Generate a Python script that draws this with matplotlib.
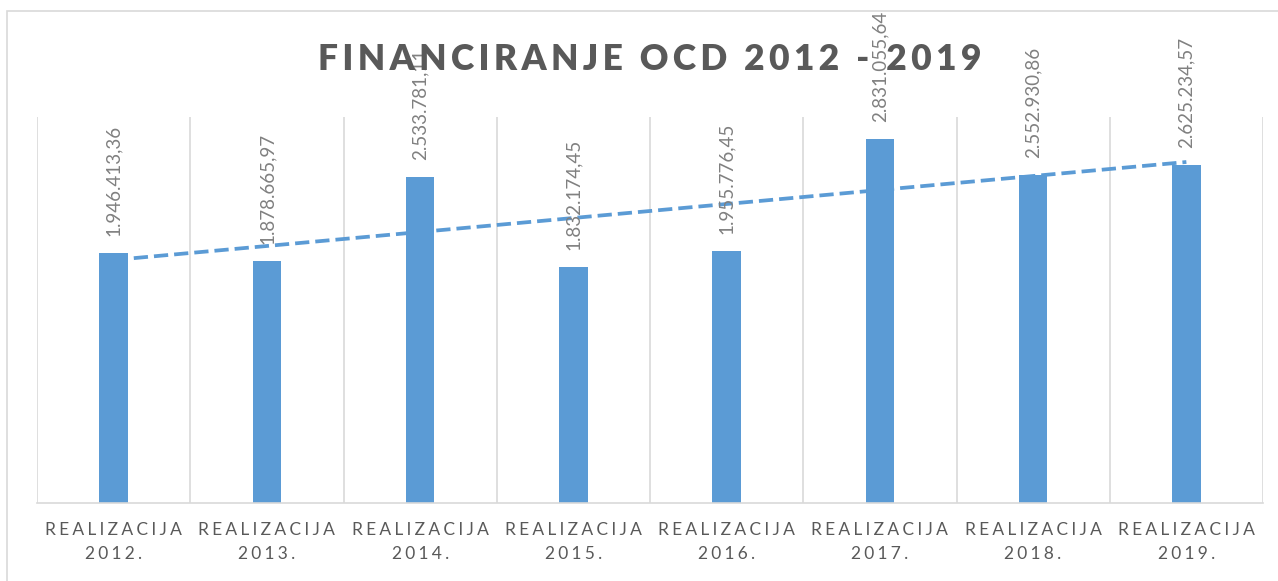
import numpy as np
import matplotlib.pyplot as plt
from matplotlib.patches import Rectangle

years = ['2012.', '2013.', '2014.', '2015.', '2016.', '2017.', '2018.', '2019.']
values = [1946413.36, 1878665.97, 2533781.11, 1832174.45,
          1955776.45, 2831055.64, 2552930.86, 2625234.57]
value_labels = ['1.946.413,36', '1.878.665,97', '2.533.781,11', '1.832.174,45',
                '1.955.776,45', '2.831.055,64', '2.552.930,86', '2.625.234,57']

bar_color = '#5b9bd5'
grid_color = '#d9d9d9'
text_gray = '#595959'
label_gray = '#808080'
fonts = ['Lato', 'DejaVu Sans']


def spaced(s, sep='\u2009'):
    return sep.join(s)


fig = plt.figure(figsize=(12.78, 5.81), dpi=100)
# outer chart frame
fig.patches.append(Rectangle((7 / 1278, -0.1), 1.2, (581 - 11) / 581 + 0.1,
                             transform=fig.transFigure, fill=False,
                             edgecolor=grid_color, linewidth=1.2))
ax = fig.add_axes([37 / 1278, 78 / 581, 1226 / 1278, 386 / 581])

x = np.arange(len(values))
ax.bar(x, values, width=0.185, color=bar_color, zorder=2)

# linear trendline
k, b = np.polyfit(x, values, 1)
ax.plot(x, k * x + b, linestyle=(0, (3.8, 1.6)), color=bar_color,
        linewidth=2.7, zorder=3)

for xi, v, lab in zip(x, values, value_labels):
    ax.annotate(lab, (xi, v), xytext=(0, 17), textcoords='offset pixels',
                rotation=90, ha='center', va='bottom', color=label_gray,
                fontsize=13.5, family=fonts, zorder=4)

ax.set_xlim(-0.5, len(values) - 0.5)
ax.set_ylim(0, 3000000)
for g in np.arange(-0.5, len(values), 1.0):
    ax.axvline(g, color=grid_color, linewidth=1.2, zorder=1)

ax.set_xticks(x)
ax.set_xticklabels([spaced('REALIZACIJA', '\u2009\u200a') + '\n' + spaced(y, '\u2009\u200a')
                    for y in years],
                   fontsize=12.5, color=text_gray, family=fonts, linespacing=1.55)
ax.tick_params(axis='x', length=0, pad=14)
ax.set_yticks([])
for s in ['top', 'left', 'right']:
    ax.spines[s].set_visible(False)
ax.spines['bottom'].set_color(grid_color)
ax.spines['bottom'].set_linewidth(1.2)

fig.text(650 / 1278, 1 - 59 / 581, spaced('FINANCIRANJE OCD 2012 - 2019'),
         ha='center', va='center', fontsize=25.5, fontweight='heavy',
         color=text_gray, family=fonts)

fig.savefig('out.png', dpi=100)
